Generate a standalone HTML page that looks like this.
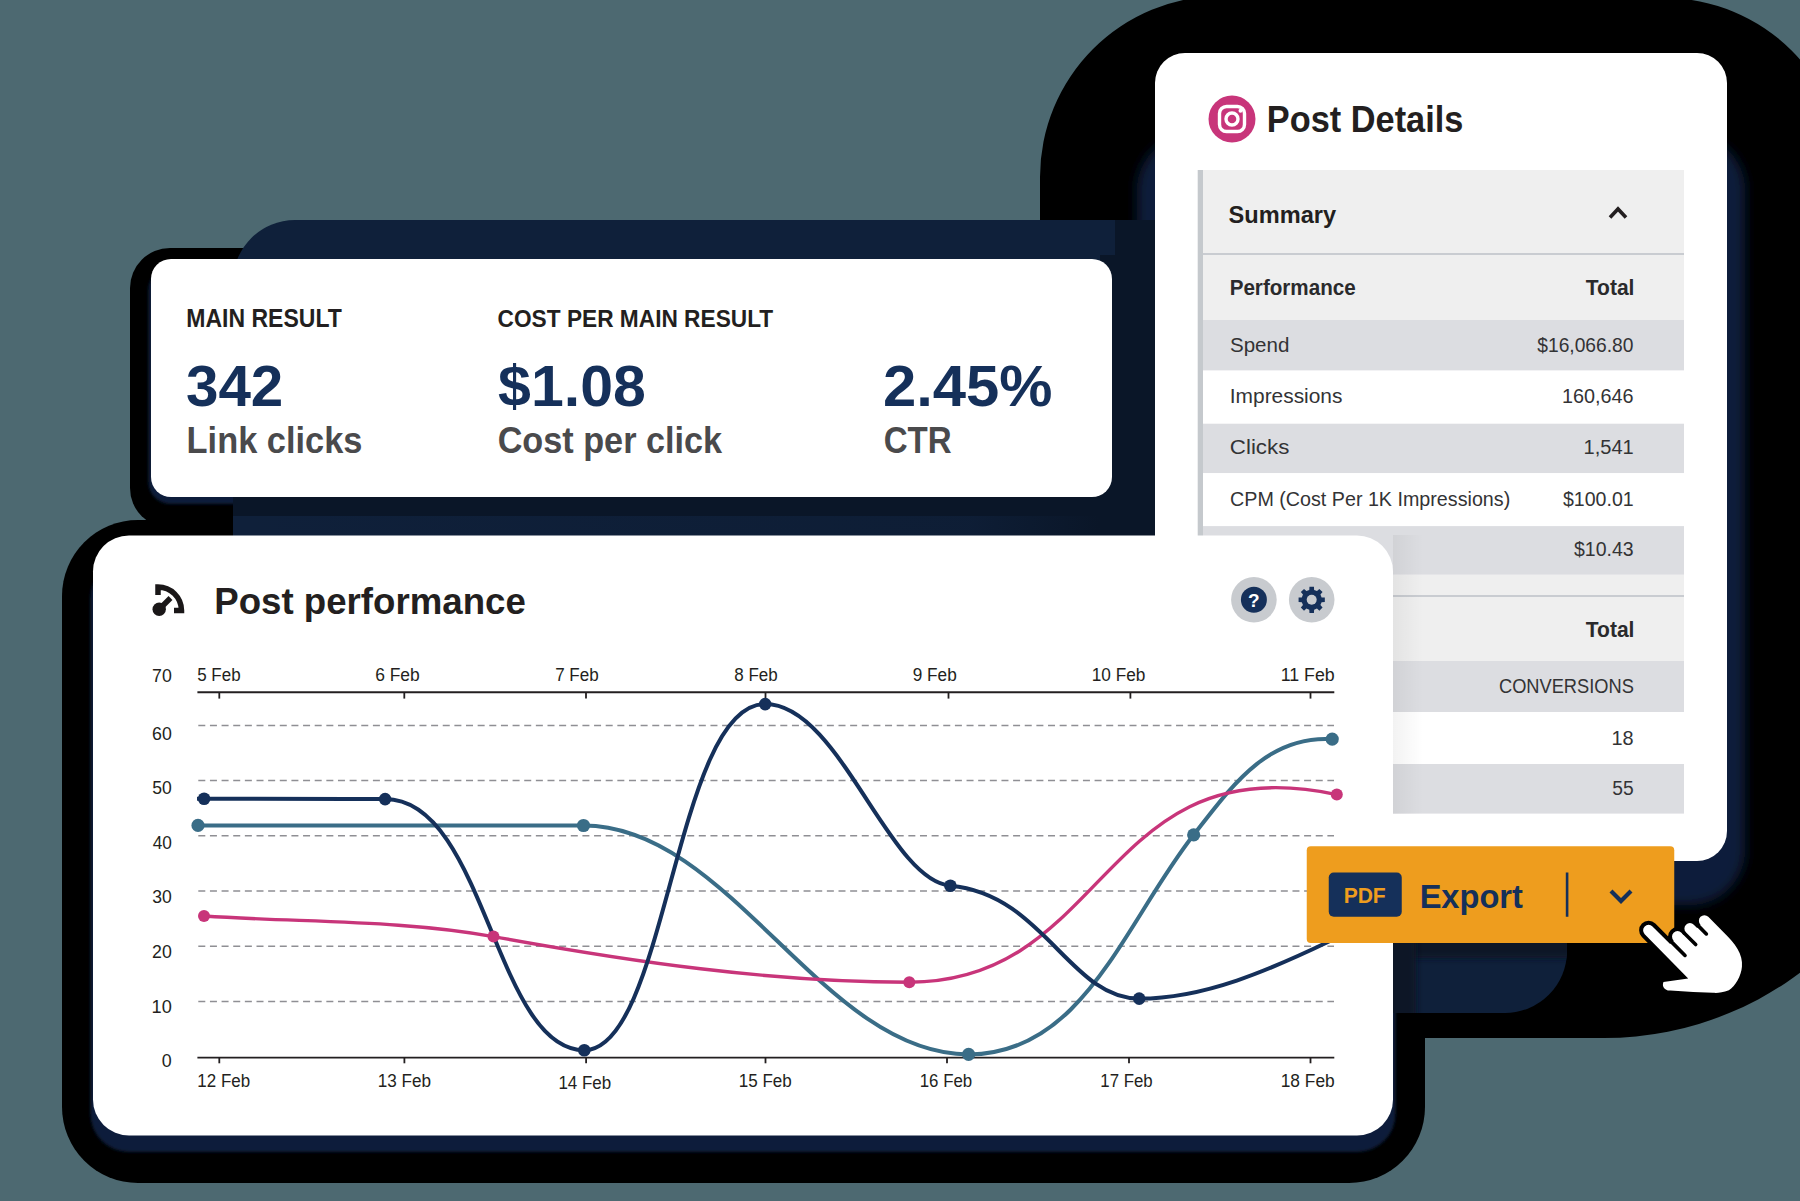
<!DOCTYPE html><html><head><meta charset="utf-8"><title>Post performance</title><style>html,body{margin:0;padding:0;width:1800px;height:1201px;overflow:hidden;background:#4d6971;}svg{display:block;font-family:"Liberation Sans",sans-serif;}</style></head><body><svg width="1800" height="1201" viewBox="0 0 1800 1201" font-family="Liberation Sans, sans-serif"><defs><filter id="b2" x="-10%" y="-10%" width="120%" height="120%"><feGaussianBlur stdDeviation="1.6"/></filter><filter id="b3" x="-20%" y="-50%" width="140%" height="200%"><feGaussianBlur stdDeviation="3"/></filter><filter id="b6" x="-50%" y="-50%" width="200%" height="200%"><feGaussianBlur stdDeviation="6"/></filter><clipPath id="navyclip"><rect x="233" y="220" width="1334" height="793" rx="62"/></clipPath></defs><rect x="0" y="0" width="1800" height="1201" fill="#4d6971"/>
<path d="M1040,1038 L1040,177 A181,181 0 0 1 1221,-4 L1665,-2 A179,179 0 0 1 1844,177 L1931,711 A327,327 0 0 1 1604,1038 Z" fill="#000"/>
<rect x="130" y="248" width="400" height="280" rx="40" fill="#000"/>
<rect x="62" y="520" width="1363" height="663" rx="76" fill="#000"/>
<rect x="90.5" y="560" width="1305" height="592" rx="38" fill="#0e1f3a" filter="url(#b2)"/>
<rect x="148.5" y="268" width="966" height="236" rx="22" fill="#0e1f3a" filter="url(#b2)"/>
<rect x="1137" y="135" width="608" height="770" rx="55" fill="#0e1f3a" filter="url(#b6)"/>
<rect x="233" y="220" width="1334" height="793" rx="62" fill="#0f203a"/>
<defs><linearGradient id="bandg" x1="231" x2="1100" y1="0" y2="0" gradientUnits="userSpaceOnUse"><stop offset="0" stop-color="#0a1628" stop-opacity="0"/><stop offset="0.85" stop-color="#0a1628" stop-opacity="0.25"/><stop offset="1" stop-color="#0a1628" stop-opacity="1"/></linearGradient></defs>
<g clip-path="url(#navyclip)"><rect x="200" y="490" width="960" height="26" fill="#0a1628"/><rect x="200" y="515" width="960" height="21" fill="url(#bandg)"/><rect x="1115" y="215" width="45" height="320" fill="#0a1628"/><rect x="1100" y="255" width="60" height="280" fill="#0a1628"/><rect x="1380" y="930" width="200" height="28" fill="#0a1628" filter="url(#b3)"/><rect x="1380" y="930" width="36" height="90" fill="#0a1628" filter="url(#b3)"/></g>
<rect x="151" y="259" width="961" height="238" rx="20" fill="#fff"/>
<text x="186.30" y="326.50" font-size="25.07" font-weight="700" fill="#231f20" textLength="155.50" lengthAdjust="spacingAndGlyphs">MAIN RESULT</text>
<text x="497.59" y="326.50" font-size="24.71" font-weight="700" fill="#231f20" textLength="275.61" lengthAdjust="spacingAndGlyphs">COST PER MAIN RESULT</text>
<text x="185.94" y="405.50" font-size="57.14" font-weight="700" fill="#15305a" textLength="97.40" lengthAdjust="spacingAndGlyphs">342</text>
<text x="498.11" y="405.50" font-size="57.97" font-weight="700" fill="#15305a" textLength="147.81" lengthAdjust="spacingAndGlyphs">$1.08</text>
<text x="882.91" y="405.50" font-size="57.14" font-weight="700" fill="#15305a" textLength="169.62" lengthAdjust="spacingAndGlyphs">2.45%</text>
<text x="186.56" y="452.90" font-size="37.68" font-weight="700" fill="#4a4a4c" textLength="175.97" lengthAdjust="spacingAndGlyphs">Link clicks</text>
<text x="497.63" y="452.90" font-size="37.14" font-weight="700" fill="#4a4a4c" textLength="224.48" lengthAdjust="spacingAndGlyphs">Cost per click</text>
<text x="883.68" y="452.90" font-size="37.14" font-weight="700" fill="#4a4a4c" textLength="67.99" lengthAdjust="spacingAndGlyphs">CTR</text>
<rect x="1155" y="53" width="572" height="808" rx="30" fill="#fff"/>
<circle cx="1232" cy="119" r="23.5" fill="#c8357a"/>
<rect x="1219.5" y="106.5" width="25" height="25" rx="7" fill="none" stroke="#fff" stroke-width="3.4"/>
<circle cx="1232" cy="119" r="6" fill="none" stroke="#fff" stroke-width="3.4"/>
<circle cx="1240.5" cy="110.8" r="2" fill="#fff"/>
<text x="1266.77" y="131.70" font-size="37.68" font-weight="700" fill="#231f20" textLength="196.58" lengthAdjust="spacingAndGlyphs">Post Details</text>
<rect x="1203" y="170" width="481" height="84" fill="#efefef"/>
<rect x="1203" y="253" width="481" height="2" fill="#c9ccd1"/>
<rect x="1203" y="255" width="481" height="65" fill="#efefef"/>
<rect x="1203" y="320" width="481" height="50.6" fill="#dcdde1"/>
<rect x="1203" y="370.6" width="481" height="53.1" fill="#fff"/>
<rect x="1203" y="423.7" width="481" height="49.5" fill="#dcdde1"/>
<rect x="1203" y="473.2" width="481" height="52.9" fill="#fff"/>
<rect x="1203" y="526.1" width="481" height="48.7" fill="#dcdde1"/>
<rect x="1203" y="574.8" width="481" height="20.2" fill="#efefef"/>
<rect x="1203" y="595" width="481" height="2" fill="#c9ccd1"/>
<rect x="1203" y="597" width="481" height="64" fill="#efefef"/>
<rect x="1203" y="661" width="481" height="51.0" fill="#dcdde1"/>
<rect x="1203" y="712" width="481" height="52.0" fill="#fff"/>
<rect x="1203" y="764" width="481" height="49.6" fill="#dcdde1"/>
<rect x="1197.7" y="170" width="5.3" height="643.6" fill="#c5c9cd"/>
<text x="1228.59" y="222.70" font-size="24.29" font-weight="700" fill="#231f20" textLength="107.59" lengthAdjust="spacingAndGlyphs">Summary</text>
<polyline points="1610,217.5 1618,209 1626,217.5" fill="none" stroke="#231f20" stroke-width="3.6"/>
<text x="1229.66" y="295.00" font-size="22.75" font-weight="700" fill="#2a2a2c" textLength="126.04" lengthAdjust="spacingAndGlyphs">Performance</text>
<text x="1585.79" y="295.00" font-size="22.75" font-weight="700" fill="#2a2a2c" textLength="48.67" lengthAdjust="spacingAndGlyphs">Total</text>
<text x="1229.98" y="351.70" font-size="20.71" font-weight="400" fill="#333335" textLength="59.39" lengthAdjust="spacingAndGlyphs">Spend</text>
<text x="1537.31" y="351.70" font-size="21.01" font-weight="400" fill="#333335" textLength="96.16" lengthAdjust="spacingAndGlyphs">$16,066.80</text>
<text x="1229.82" y="403.30" font-size="20.87" font-weight="400" fill="#333335" textLength="112.63" lengthAdjust="spacingAndGlyphs">Impressions</text>
<text x="1562.02" y="403.30" font-size="20.87" font-weight="400" fill="#333335" textLength="71.57" lengthAdjust="spacingAndGlyphs">160,646</text>
<text x="1229.89" y="453.80" font-size="20.57" font-weight="400" fill="#333335" textLength="59.43" lengthAdjust="spacingAndGlyphs">Clicks</text>
<text x="1583.49" y="453.80" font-size="20.87" font-weight="400" fill="#333335" textLength="50.26" lengthAdjust="spacingAndGlyphs">1,541</text>
<text x="1230.02" y="506.00" font-size="20.57" font-weight="400" fill="#333335" textLength="280.19" lengthAdjust="spacingAndGlyphs">CPM (Cost Per 1K Impressions)</text>
<text x="1563.00" y="506.00" font-size="20.87" font-weight="400" fill="#333335" textLength="70.67" lengthAdjust="spacingAndGlyphs">$100.01</text>
<text x="1574.01" y="555.80" font-size="20.87" font-weight="400" fill="#333335" textLength="59.55" lengthAdjust="spacingAndGlyphs">$10.43</text>
<text x="1585.79" y="636.70" font-size="22.75" font-weight="700" fill="#2a2a2c" textLength="48.67" lengthAdjust="spacingAndGlyphs">Total</text>
<text x="1498.99" y="693.20" font-size="21.00" font-weight="400" fill="#333335" textLength="134.84" lengthAdjust="spacingAndGlyphs">CONVERSIONS</text>
<text x="1611.51" y="744.60" font-size="20.87" font-weight="400" fill="#333335" textLength="22.14" lengthAdjust="spacingAndGlyphs">18</text>
<text x="1612.23" y="795.20" font-size="20.87" font-weight="400" fill="#333335" textLength="21.38" lengthAdjust="spacingAndGlyphs">55</text>
<defs><linearGradient id="tsh" x1="0" x2="1" y1="0" y2="0"><stop offset="0" stop-color="#000" stop-opacity="0.05"/><stop offset="1" stop-color="#000" stop-opacity="0"/></linearGradient></defs>
<rect x="1393" y="535" width="30" height="279" fill="url(#tsh)"/>
<rect x="93" y="535.5" width="1300" height="600" rx="36" fill="#fff"/>
<g fill="none" stroke="#1a1718" stroke-width="5.5"><path d="M158,595 L158,587 A23.5,23.5 0 0 1 181.5,610.5 L174,610.5"/><path d="M159,609.5 L170.5,598"/></g><circle cx="159.2" cy="609.3" r="6.7" fill="#1a1718"/>
<text x="214.32" y="614.00" font-size="37.68" font-weight="700" fill="#231f20" textLength="311.46" lengthAdjust="spacingAndGlyphs">Post performance</text>
<circle cx="1253.9" cy="599.8" r="22.8" fill="#c8cbcf"/><circle cx="1253.9" cy="599.8" r="13" fill="#15305a"/>
<circle cx="1311.7" cy="599.8" r="22.8" fill="#c8cbcf"/>
<path d="M1321.61,597.38 L1324.81,597.55 L1324.81,602.05 L1321.61,602.22 L1320.42,605.09 L1322.56,607.48 L1319.38,610.66 L1316.99,608.52 L1314.12,609.71 L1313.95,612.91 L1309.45,612.91 L1309.28,609.71 L1306.41,608.52 L1304.02,610.66 L1300.84,607.48 L1302.98,605.09 L1301.79,602.22 L1298.59,602.05 L1298.59,597.55 L1301.79,597.38 L1302.98,594.51 L1300.84,592.12 L1304.02,588.94 L1306.41,591.08 L1309.28,589.89 L1309.45,586.69 L1313.95,586.69 L1314.12,589.89 L1316.99,591.08 L1319.38,588.94 L1322.56,592.12 L1320.42,594.51 Z" fill="#15305a"/><circle cx="1311.7" cy="599.8" r="5" fill="#c8cbcf"/>
<text x="1253.9" y="606.5" font-size="19" font-weight="700" fill="#fff" text-anchor="middle">?</text>
<line x1="198.3" y1="1001.4" x2="1334" y2="1001.4" stroke="#8f8f94" stroke-width="1.5" stroke-dasharray="7 4.64"/>
<line x1="198.3" y1="946.2" x2="1334" y2="946.2" stroke="#8f8f94" stroke-width="1.5" stroke-dasharray="7 4.64"/>
<line x1="198.3" y1="891.0" x2="1334" y2="891.0" stroke="#8f8f94" stroke-width="1.5" stroke-dasharray="7 4.64"/>
<line x1="198.3" y1="835.8" x2="1334" y2="835.8" stroke="#8f8f94" stroke-width="1.5" stroke-dasharray="7 4.64"/>
<line x1="198.3" y1="780.6" x2="1334" y2="780.6" stroke="#8f8f94" stroke-width="1.5" stroke-dasharray="7 4.64"/>
<line x1="198.3" y1="725.4" x2="1334" y2="725.4" stroke="#8f8f94" stroke-width="1.5" stroke-dasharray="7 4.64"/>
<line x1="197.4" y1="692.2" x2="1334.3" y2="692.2" stroke="#231f20" stroke-width="1.9"/>
<line x1="197.4" y1="1057.6" x2="1334.3" y2="1057.6" stroke="#231f20" stroke-width="1.9"/>
<line x1="219.3" y1="692" x2="219.3" y2="698.6" stroke="#231f20" stroke-width="1.8"/>
<line x1="404.3" y1="692" x2="404.3" y2="698.6" stroke="#231f20" stroke-width="1.8"/>
<line x1="586" y1="692" x2="586" y2="698.6" stroke="#231f20" stroke-width="1.8"/>
<line x1="765.5" y1="692" x2="765.5" y2="698.6" stroke="#231f20" stroke-width="1.8"/>
<line x1="948.5" y1="692" x2="948.5" y2="698.6" stroke="#231f20" stroke-width="1.8"/>
<line x1="1130.4" y1="692" x2="1130.4" y2="698.6" stroke="#231f20" stroke-width="1.8"/>
<line x1="1310.5" y1="692" x2="1310.5" y2="698.6" stroke="#231f20" stroke-width="1.8"/>
<line x1="219.3" y1="1057.5" x2="219.3" y2="1063.3" stroke="#231f20" stroke-width="1.8"/>
<line x1="404.4" y1="1057.5" x2="404.4" y2="1063.3" stroke="#231f20" stroke-width="1.8"/>
<line x1="586.1" y1="1057.5" x2="586.1" y2="1063.3" stroke="#231f20" stroke-width="1.8"/>
<line x1="765.5" y1="1057.5" x2="765.5" y2="1063.3" stroke="#231f20" stroke-width="1.8"/>
<line x1="947" y1="1057.5" x2="947" y2="1063.3" stroke="#231f20" stroke-width="1.8"/>
<line x1="1129" y1="1057.5" x2="1129" y2="1063.3" stroke="#231f20" stroke-width="1.8"/>
<line x1="1310.5" y1="1057.5" x2="1310.5" y2="1063.3" stroke="#231f20" stroke-width="1.8"/>
<text x="152.11" y="681.70" font-size="17.97" font-weight="400" fill="#231f20" textLength="19.75" lengthAdjust="spacingAndGlyphs">70</text>
<text x="152.11" y="739.60" font-size="17.71" font-weight="400" fill="#231f20" textLength="19.75" lengthAdjust="spacingAndGlyphs">60</text>
<text x="152.30" y="794.23" font-size="17.97" font-weight="400" fill="#231f20" textLength="19.56" lengthAdjust="spacingAndGlyphs">50</text>
<text x="152.65" y="848.86" font-size="17.97" font-weight="400" fill="#231f20" textLength="19.19" lengthAdjust="spacingAndGlyphs">40</text>
<text x="152.30" y="903.49" font-size="17.71" font-weight="400" fill="#231f20" textLength="19.56" lengthAdjust="spacingAndGlyphs">30</text>
<text x="152.11" y="958.12" font-size="17.71" font-weight="400" fill="#231f20" textLength="19.75" lengthAdjust="spacingAndGlyphs">20</text>
<text x="151.63" y="1012.75" font-size="17.97" font-weight="400" fill="#231f20" textLength="20.24" lengthAdjust="spacingAndGlyphs">10</text>
<text x="161.88" y="1067.38" font-size="17.71" font-weight="400" fill="#231f20" textLength="9.96" lengthAdjust="spacingAndGlyphs">0</text>
<text x="197.22" y="680.60" font-size="18.41" font-weight="400" fill="#231f20" textLength="43.39" lengthAdjust="spacingAndGlyphs">5 Feb</text>
<text x="375.13" y="680.60" font-size="18.41" font-weight="400" fill="#231f20" textLength="44.61" lengthAdjust="spacingAndGlyphs">6 Feb</text>
<text x="555.15" y="680.60" font-size="18.41" font-weight="400" fill="#231f20" textLength="43.57" lengthAdjust="spacingAndGlyphs">7 Feb</text>
<text x="734.23" y="680.60" font-size="18.41" font-weight="400" fill="#231f20" textLength="43.48" lengthAdjust="spacingAndGlyphs">8 Feb</text>
<text x="912.73" y="680.60" font-size="18.41" font-weight="400" fill="#231f20" textLength="44.00" lengthAdjust="spacingAndGlyphs">9 Feb</text>
<text x="1091.71" y="680.60" font-size="18.41" font-weight="400" fill="#231f20" textLength="53.64" lengthAdjust="spacingAndGlyphs">10 Feb</text>
<text x="1280.67" y="680.60" font-size="18.41" font-weight="400" fill="#231f20" textLength="54.03" lengthAdjust="spacingAndGlyphs">11 Feb</text>
<text x="197.33" y="1087.00" font-size="18.41" font-weight="400" fill="#231f20" textLength="52.81" lengthAdjust="spacingAndGlyphs">12 Feb</text>
<text x="377.72" y="1087.00" font-size="18.41" font-weight="400" fill="#231f20" textLength="53.33" lengthAdjust="spacingAndGlyphs">13 Feb</text>
<text x="558.43" y="1089.00" font-size="18.41" font-weight="400" fill="#231f20" textLength="52.81" lengthAdjust="spacingAndGlyphs">14 Feb</text>
<text x="738.72" y="1087.00" font-size="18.41" font-weight="400" fill="#231f20" textLength="53.02" lengthAdjust="spacingAndGlyphs">15 Feb</text>
<text x="919.74" y="1087.00" font-size="18.41" font-weight="400" fill="#231f20" textLength="52.50" lengthAdjust="spacingAndGlyphs">16 Feb</text>
<text x="1100.34" y="1087.00" font-size="18.41" font-weight="400" fill="#231f20" textLength="52.39" lengthAdjust="spacingAndGlyphs">17 Feb</text>
<text x="1280.70" y="1087.00" font-size="18.41" font-weight="400" fill="#231f20" textLength="54.05" lengthAdjust="spacingAndGlyphs">18 Feb</text>
<path d="M198.0,825.4 C327.5,825.4 455.5,825.5 583.5,825.5 C730.2,825.5 822.2,1054.4 968.6,1054.4 C1083.4,1054.4 1124.3,923.4 1193.7,834.8 C1231.0,787.2 1266.8,735.0 1332.2,739.1" fill="none" stroke="#3a6d87" stroke-width="4"/>
<path d="M204.0,916.0 C305.0,922.6 402.7,920.0 493.5,936.6 C630.5,961.6 770.0,982.2 909.3,982.2 C1110.0,982.2 1101.1,743.8 1336.8,794.6" fill="none" stroke="#c8357a" stroke-width="3.4"/>
<path d="M197,798.7 L204.1,798.7 C265.3,798.7 325.0,799.1 385.1,799.1 C485.4,799.1 494.8,1050.2 584.3,1050.2 C666.8,1050.2 675.2,704.1 765.2,704.1 C839.5,704.1 888.2,880.1 950.4,885.8 C1043.8,894.3 1069.7,998.6 1139.2,998.6 C1204.6,998.6 1270.4,969.6 1330.0,941.0" fill="none" stroke="#15305a" stroke-width="4"/>
<circle cx="204.1" cy="798.7" r="6.3" fill="#15305a"/>
<circle cx="385.1" cy="799.1" r="6.3" fill="#15305a"/>
<circle cx="584.3" cy="1050.2" r="6.3" fill="#15305a"/>
<circle cx="765.2" cy="704.1" r="6.3" fill="#15305a"/>
<circle cx="950.4" cy="885.8" r="6.3" fill="#15305a"/>
<circle cx="1139.2" cy="998.6" r="6.3" fill="#15305a"/>
<circle cx="198" cy="825.4" r="6.6" fill="#3a6d87"/>
<circle cx="583.5" cy="825.5" r="6.6" fill="#3a6d87"/>
<circle cx="968.6" cy="1054.4" r="6.6" fill="#3a6d87"/>
<circle cx="1193.7" cy="834.8" r="6.6" fill="#3a6d87"/>
<circle cx="1332.2" cy="739.1" r="6.6" fill="#3a6d87"/>
<circle cx="204" cy="916" r="6" fill="#c8357a"/>
<circle cx="493.5" cy="936.6" r="6" fill="#c8357a"/>
<circle cx="909.3" cy="982.2" r="6" fill="#c8357a"/>
<circle cx="1336.8" cy="794.6" r="6" fill="#c8357a"/>
<rect x="1306.75" y="846.25" width="367.5" height="96.75" rx="4" fill="#ee9d1e"/>
<rect x="1328.75" y="872.5" width="73" height="44.25" rx="5" fill="#15305a"/>
<text x="1343.63" y="903.00" font-size="21.74" font-weight="700" fill="#ee9d1e" textLength="42.11" lengthAdjust="spacingAndGlyphs">PDF</text>
<text x="1419.63" y="908.00" font-size="33.33" font-weight="700" fill="#15305a" textLength="103.26" lengthAdjust="spacingAndGlyphs">Export</text>
<rect x="1565.8" y="872.5" width="2.6" height="44.25" fill="#15305a"/>
<polyline points="1611,891 1621,901 1631,891" fill="none" stroke="#15305a" stroke-width="4.2"/>
<g transform="translate(1648.6,930.3) rotate(-45)"><path d="M-5.5,0 A5.5,5.5 0 0 1 5.5,0 L5.5,24.9 L10.5,24.9 A5.5,5.5 0 0 1 21.5,24.9 L21.5,28 L24.9,28 A5.5,5.5 0 0 1 35.9,28 L35.9,32.7 L40.7,32.7 A5.5,5.5 0 0 1 51.7,32.7 L51.7,55 C52,70 50,84 40.3,91.7 C33,98 22,100.5 14.3,99.2 C8,96 4,93 1.4,89.7 L-12,75.2 L-27,58 C-31,55 -31,49 -26,47 L-6,62 Z" fill="#fff" stroke="#000" stroke-width="8" stroke-linejoin="round" paint-order="stroke"/><g stroke="#000" stroke-width="3.6" stroke-linecap="round"><line x1="8" y1="24" x2="8" y2="43.5"/><line x1="23.2" y1="27" x2="23.2" y2="43.4"/><line x1="38.3" y1="31" x2="38.3" y2="43.4"/></g></g></svg></body></html>
